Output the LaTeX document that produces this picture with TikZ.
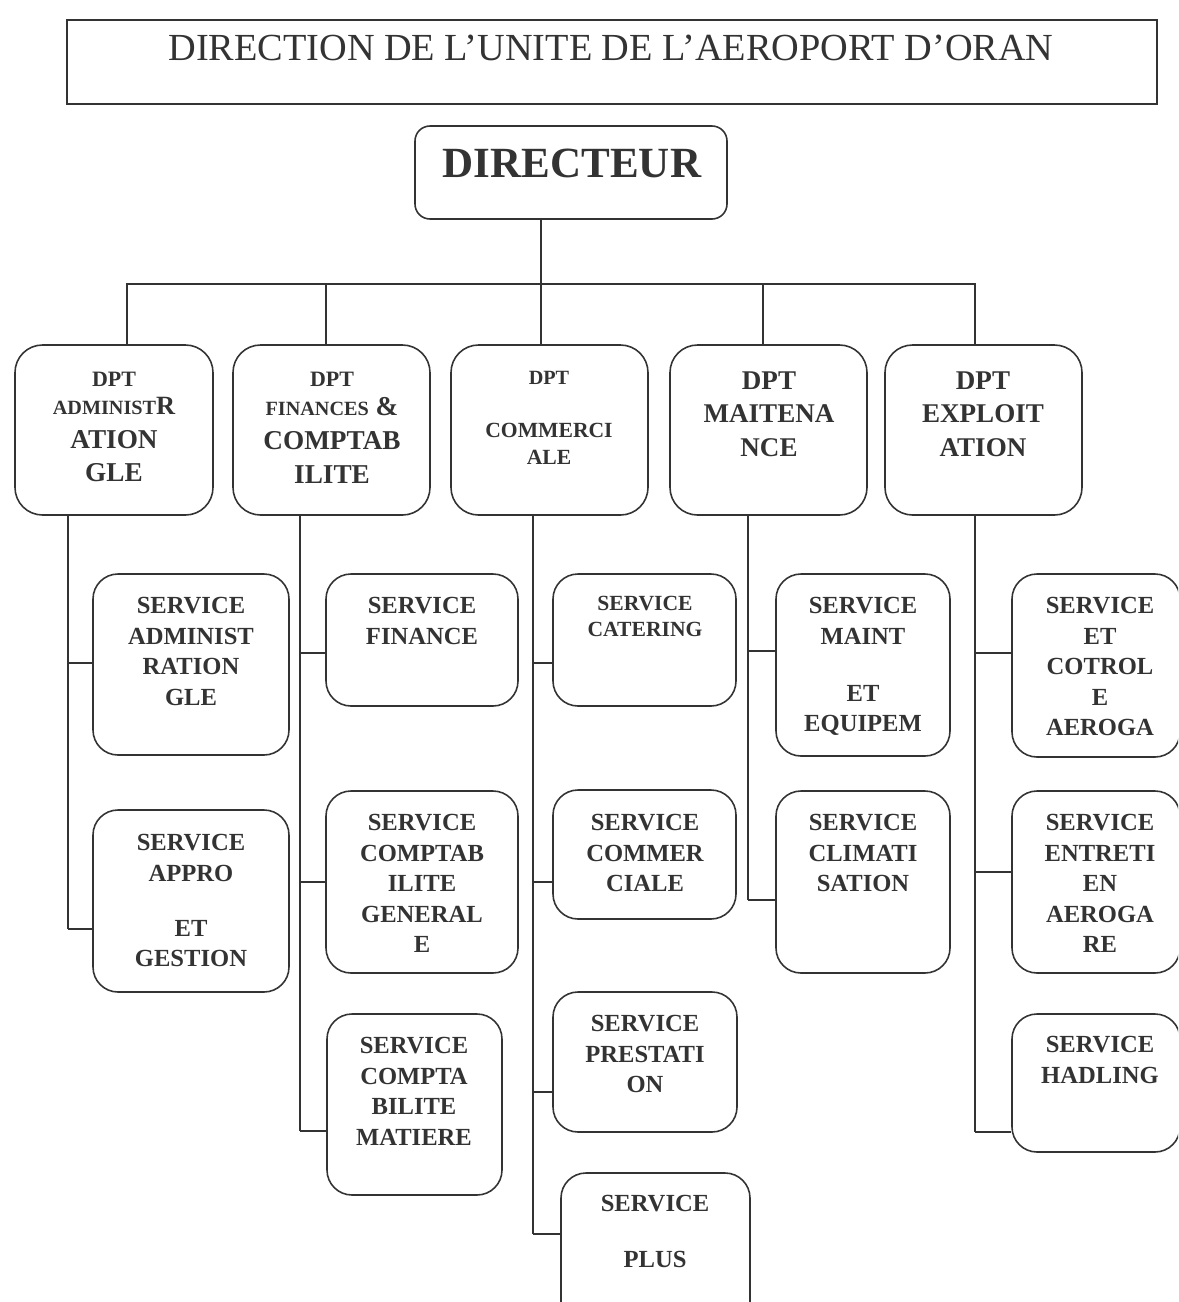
\documentclass[tikz,border=0pt]{standalone}
\usepackage{fontspec}
\setmainfont{Liberation Serif}
\usetikzlibrary{fit}

\begin{document}
\begin{tikzpicture}[x=0.02cm, y=-0.02cm, line width=0.9pt, color=black!80,
  titlebox/.style={draw, inner sep=0pt},
  dirbox/.style={draw, rounded corners=0.3cm, inner sep=0pt},
  dptbox/.style={draw, rounded corners=0.55cm, inner sep=0pt},
  svcbox/.style={draw, rounded corners=0.5cm, inner sep=0pt},
  txt/.style={anchor=north, inner sep=0pt, align=center, font=\bfseries\fontsize{14}{17.4}\selectfont}]
\useasboundingbox (0,0) rectangle (1178,1302);
\clip (0,0) rectangle (1178,1302);

% title and director
\node [titlebox, fit={(67,20) (1157,104)}] (ttl) {};
\node [anchor=north, inner sep=0pt, font=\fontsize{21.8}{26}\selectfont] (ttltxt) at (611,34.3) {DIRECTION DE L’UNITE DE L’AEROPORT D’ORAN};
\node [dirbox, fit={(415,126) (727,219)}] (dir) {};
\node [anchor=north, inner sep=0pt, font=\bfseries\fontsize{24.5}{29}\selectfont] (dirtxt) at (572,148.4) {DIRECTEUR};

% departments
\node [dptbox, fit={(15,345) (213,515)}] (d1) {};
\node [dptbox, fit={(233,345) (430,515)}] (d2) {};
\node [dptbox, fit={(451,345) (648,515)}] (d3) {};
\node [dptbox, fit={(670,345) (867,515)}] (d4) {};
\node [dptbox, fit={(885,345) (1082,515)}] (d5) {};

\node [txt, font=\bfseries\fontsize{15.5}{19}\selectfont] (d1txt) at (114,371.5) {{\fontsize{12.5}{15}\selectfont DPT}\\[-3pt]{\fontsize{11.5}{13}\selectfont ADMINIST}{\fontsize{15}{17}\selectfont R}\\ATION\\GLE};
\node [txt, font=\bfseries\fontsize{15.5}{19.3}\selectfont] (d2txt) at (332,371.5) {{\fontsize{12.5}{15}\selectfont DPT}\\[-2.8pt]{\fontsize{11.5}{13}\selectfont FINANCES} \&\\COMPTAB\\ILITE};
\node [txt, font=\bfseries\fontsize{12.3}{15.3}\selectfont] (d3txt) at (549,370.3) {{\fontsize{11.5}{14}\selectfont DPT}\\[14.8pt]COMMERCI\\ALE};
\node [txt, font=\bfseries\fontsize{15.4}{19}\selectfont] (d4txt) at (769,371) {DPT\\MAITENA\\NCE};
\node [txt, font=\bfseries\fontsize{15.4}{19}\selectfont] (d5txt) at (983,371) {DPT\\EXPLOIT\\ATION};

% services
\node [svcbox, fit={(93,574) (289,755)}] (s1a) {};
\node [svcbox, fit={(93,810) (289,992)}] (s1b) {};
\node [svcbox, fit={(326,574) (518,706)}] (s2a) {};
\node [svcbox, fit={(326,791) (518,973)}] (s2b) {};
\node [svcbox, fit={(327,1014) (502,1195)}] (s2c) {};
\node [svcbox, fit={(553,574) (736,706)}] (s3a) {};
\node [svcbox, fit={(553,790) (736,919)}] (s3b) {};
\node [svcbox, fit={(553,992) (737,1132)}] (s3c) {};
\node [svcbox, fit={(561,1173) (750,1330)}] (s3d) {};
\node [svcbox, fit={(776,574) (950,756)}] (s4a) {};
\node [svcbox, fit={(776,791) (950,973)}] (s4b) {};
\node [svcbox, fit={(1012,574) (1180,757)}] (s5a) {};
\node [svcbox, fit={(1012,791) (1180,973)}] (s5b) {};
\node [svcbox, fit={(1012,1014) (1180,1152)}] (s5c) {};

\node [txt] (t1a) at (191,596.6) {SERVICE\\ADMINIST\\RATION\\GLE};
\node [txt] (t1b) at (191,833.6) {SERVICE\\APPRO\\[13.8pt]ET\\GESTION};
\node [txt] (t2a) at (422,596.6) {SERVICE\\FINANCE};
\node [txt] (t2b) at (422,813.6) {SERVICE\\COMPTAB\\ILITE\\GENERAL\\E};
\node [txt] (t2c) at (414,1036.6) {SERVICE\\COMPTA\\BILITE\\MATIERE};
\node [txt, font=\bfseries\fontsize{12.3}{14.7}\selectfont] (t3a) at (645,595.6) {SERVICE\\CATERING};
\node [txt] (t3b) at (645,813.6) {SERVICE\\COMMER\\CIALE};
\node [txt] (t3c) at (645,1014.6) {SERVICE\\PRESTATI\\ON};
\node [txt] (t3d) at (655,1194.6) {SERVICE\\[14.3pt]PLUS};
\node [txt] (t4a) at (863,596.6) {SERVICE\\MAINT\\[14.9pt]ET\\EQUIPEM};
\node [txt] (t4b) at (863,813.6) {SERVICE\\CLIMATI\\SATION};
\node [txt] (t5a) at (1100,596.6) {SERVICE\\ET\\COTROL\\E\\AEROGA};
\node [txt] (t5b) at (1100,813.6) {SERVICE\\ENTRETI\\EN\\AEROGA\\RE};
\node [txt] (t5c) at (1100,1035.6) {SERVICE\\HADLING};

% bus and junctions
\coordinate (b0) at (541,284);
\coordinate (b1) at (127,284);
\coordinate (b2) at (326,284);
\coordinate (b3) at (541,284);
\coordinate (b4) at (763,284);
\coordinate (b5) at (975,284);

\coordinate (j1a) at (68,663);
\coordinate (j1b) at (68,929);
\coordinate (j2a) at (300,653);
\coordinate (j2b) at (300,882);
\coordinate (j2c) at (300,1131);
\coordinate (j3a) at (533,663);
\coordinate (j3b) at (533,882);
\coordinate (j3c) at (533,1092);
\coordinate (j3d) at (533,1234);
\coordinate (j4a) at (748,651);
\coordinate (j4b) at (748,900);
\coordinate (j5a) at (975,653);
\coordinate (j5b) at (975,872);
\coordinate (j5c) at (975,1132);

\draw (dir.south -| b0) -- (b0);
\draw (d1.north -| b1) -- (b1) -- (b5) -- (d5.north -| b5);
\foreach \i in {2,3,4}
  \draw (b\i) -- (b\i |- d\i.north);

\foreach \d/\s in {1/1b,2/2c,3/3d,4/4b,5/5c}
  \draw (d\d.south -| j\s) -- (j\s);
\foreach \s in {1a,1b,2a,2b,2c,3a,3b,3c,3d,4a,4b,5a,5b,5c}
  \draw (j\s) -- (j\s -| s\s.west);
\end{tikzpicture}
\end{document}
